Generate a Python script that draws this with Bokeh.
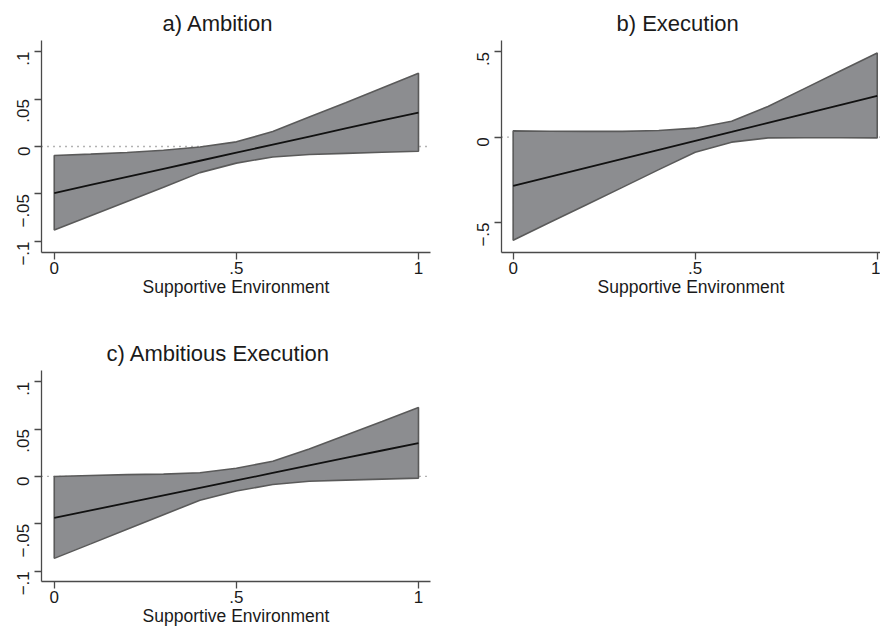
import math
from bokeh.plotting import figure
from bokeh.models import Span, Range1d, FixedTicker
from bokeh.layouts import column, row
from bokeh.embed import file_html
from bokeh.resources import INLINE

# ---- data ----
x_env = [0.0, 0.1, 0.2, 0.3, 0.4, 0.5, 0.6, 0.7, 0.8, 0.9, 1.0]

ambition_upper = [-0.0094, -0.0080, -0.0063, -0.0040, -0.0005, 0.0049, 0.0157, 0.0310, 0.0460, 0.0615, 0.0770]
ambition_lower = [-0.0880, -0.0730, -0.0580, -0.0430, -0.0275, -0.0175, -0.0110, -0.0084, -0.0072, -0.0060, -0.0050]
ambition_effect = [-0.0490, -0.0405, -0.0320, -0.0235, -0.0150, -0.0065, 0.0020, 0.0105, 0.0190, 0.0275, 0.0357]

execution_upper = [0.037, 0.035, 0.034, 0.034, 0.039, 0.053, 0.094, 0.180, 0.285, 0.390, 0.494]
execution_lower = [-0.604, -0.500, -0.397, -0.294, -0.190, -0.088, -0.029, -0.004, -0.003, -0.003, -0.004]
execution_effect = [-0.286, -0.233, -0.180, -0.127, -0.074, -0.021, 0.031, 0.084, 0.137, 0.190, 0.243]

ambexec_upper = [0.0000, 0.0010, 0.0020, 0.0025, 0.0040, 0.0087, 0.0160, 0.0290, 0.0435, 0.0580, 0.0727]
ambexec_lower = [-0.0864, -0.0711, -0.0557, -0.0404, -0.0250, -0.0154, -0.0084, -0.0050, -0.0039, -0.0028, -0.0017]
ambexec_effect = [-0.0437, -0.0358, -0.0279, -0.0200, -0.0121, -0.0042, 0.0037, 0.0116, 0.0195, 0.0274, 0.0353]

titles = ["a) Ambition", "b) Execution", "c) Ambitious Execution"]
x_title = "Supportive Environment"

x_ticks = [0, 0.5, 1]
x_tick_labels = ["0", ".5", "1"]
small_ticks = [-0.1, -0.05, 0, 0.05, 0.1]
small_tick_labels = ["\u2212.1", "\u2212.05", "0", ".05", ".1"]
big_ticks = [-0.5, 0, 0.5]
big_tick_labels = ["\u2212.5", "0", ".5"]

FONT = "Liberation Sans"
TXT = "#1a1a1a"
AXC = "#4a4a4a"


def panel(title, title_offset, upper, lower, effect, yticks, ylabels, xr, yr,
          w, h, bl, br, bt, bb):
    p = figure(width=w, height=h, output_backend="svg", toolbar_location=None,
               x_range=Range1d(*xr), y_range=Range1d(*yr),
               min_border_left=bl, min_border_right=br,
               min_border_top=bt, min_border_bottom=bb)
    p.title.text = title
    p.title.align = "left"
    p.title.offset = title_offset
    p.title.text_font = FONT
    p.title.text_font_size = "22px"
    p.title.text_font_style = "normal"
    p.title.text_color = TXT
    p.outline_line_color = None
    p.xgrid.visible = False
    p.ygrid.visible = False

    zero = Span(location=0, dimension="width", line_color="#666666",
                line_width=1.3, line_dash="1 5", level="underlay")
    p.add_layout(zero)

    xs = list(x_env) + list(reversed(x_env))
    ys = list(upper) + list(reversed(lower))
    p.patch(xs, ys, fill_color="#8c8d90", line_color="#5a5a5a", line_width=1.6)
    p.line(x_env, effect, line_color="#111111", line_width=1.8)

    xa = p.xaxis[0]
    xa.ticker = FixedTicker(ticks=x_ticks)
    xa.major_label_overrides = {t: l for t, l in zip(x_ticks, x_tick_labels)}
    xa.axis_label = x_title
    ya = p.yaxis[0]
    ya.ticker = FixedTicker(ticks=yticks)
    ya.major_label_overrides = {t: l for t, l in zip(yticks, ylabels)}
    ya.major_label_orientation = math.pi / 2

    for ax in (xa, ya):
        ax.axis_line_color = AXC
        ax.axis_line_width = 1.3
        ax.major_tick_line_color = AXC
        ax.major_tick_line_width = 1.3
        ax.major_tick_out = 7
        ax.major_tick_in = 0
        ax.minor_tick_line_color = None
        ax.major_label_text_font = FONT
        ax.major_label_text_font_size = "17px"
        ax.major_label_text_color = TXT
        ax.axis_label_text_font = FONT
        ax.axis_label_text_font_size = "17.5px"
        ax.axis_label_text_font_style = "normal"
        ax.axis_label_text_color = TXT
    xa.major_label_standoff = 2
    xa.axis_label_standoff = 0
    ya.major_label_standoff = 11
    return p


pa = panel(titles[0], 121, ambition_upper, ambition_lower, ambition_effect,
           small_ticks, small_tick_labels, (-0.035, 1.033), (-0.1116, 0.1116),
           440, 330, 41, 10, 40, 78)
pb = panel(titles[1], 115, execution_upper, execution_lower, execution_effect,
           big_ticks, big_tick_labels, (-0.032, 1.009), (-0.676, 0.567),
           440, 330, 61, 0, 40, 78)
pc = panel(titles[2], 65, ambexec_upper, ambexec_lower, ambexec_effect,
           small_ticks, small_tick_labels, (-0.035, 1.033), (-0.1108, 0.1118),
           440, 299, 41, 10, 40, 48)

layout = column(row(pa, pb, spacing=0), pc, spacing=0)
open("out.html", "w").write(file_html(layout, INLINE))
